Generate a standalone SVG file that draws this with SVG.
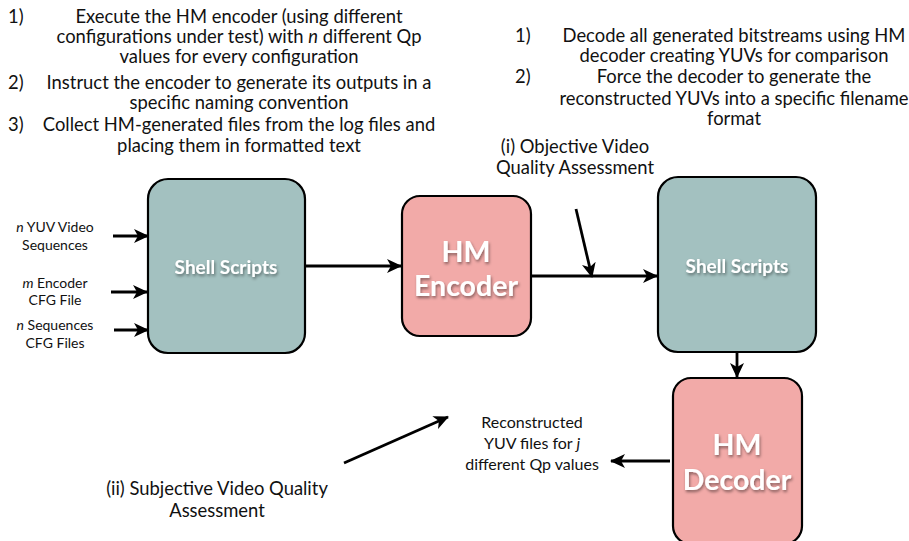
<svg xmlns="http://www.w3.org/2000/svg" width="909" height="541" viewBox="0 0 909 541">
<style>
.t{font-family:Lato,"Liberation Sans",sans-serif;fill:#111;}
.big{font-size:18.4px;}
.sm{font-size:14px;}
.md{font-size:16px;}
.box{stroke:#000;stroke-width:2.2;}
.teal{fill:#A3C1C0;}
.pink{fill:#F2AAA8;}
.lbl{font-family:Lato,"Liberation Sans",sans-serif;font-weight:bold;fill:#fff;text-anchor:middle;filter:url(#sh);}
.c{fill:none;stroke:#000;stroke-width:2.8;}
</style>
<defs>
<marker id="ah" markerUnits="userSpaceOnUse" markerWidth="16" markerHeight="14" refX="14" refY="7" orient="auto" viewBox="0 0 16 14">
<path d="M0,0 L15,7 L0,14 L4,7 z" fill="#000"/>
</marker>
<filter id="sh" x="-20%" y="-30%" width="140%" height="160%">
<feDropShadow dx="1" dy="2" stdDeviation="1.5" flood-color="#000" flood-opacity="0.45"/>
</filter>
</defs>
<rect width="909" height="541" fill="#fff"/>

<g id="notes-left" class="t big">
<text x="8" y="23">1)</text>
<text x="239" y="23" text-anchor="middle">Execute the HM encoder (using different</text>
<text x="239" y="43" text-anchor="middle">configurations under test) with <tspan font-style="italic">n</tspan> different Qp</text>
<text x="239" y="63" text-anchor="middle">values for every configuration</text>
<text x="8" y="89">2)</text>
<text x="239" y="89" text-anchor="middle">Instruct the encoder to generate its outputs in a</text>
<text x="239" y="109" text-anchor="middle">specific naming convention</text>
<text x="8" y="131">3)</text>
<text x="239" y="131" text-anchor="middle">Collect HM-generated files from the log files and</text>
<text x="239" y="152" text-anchor="middle">placing them in formatted text</text>
</g>

<g id="notes-right" class="t big">
<text x="515" y="42">1)</text>
<text x="734" y="42" text-anchor="middle">Decode all generated bitstreams using HM</text>
<text x="734" y="62" text-anchor="middle">decoder creating YUVs for comparison</text>
<text x="515" y="83">2)</text>
<text x="734" y="83" text-anchor="middle">Force the decoder to generate the</text>
<text x="734" y="105" text-anchor="middle">reconstructed YUVs into a specific filename</text>
<text x="734" y="125" text-anchor="middle">format</text>
</g>

<g id="label-objective" class="t big" text-anchor="middle">
<text x="575" y="153">(i) Objective Video</text>
<text x="575" y="174">Quality Assessment</text>
</g>

<g id="label-inputs" class="t sm" text-anchor="middle">
<text x="55" y="232"><tspan font-style="italic">n</tspan> YUV Video</text>
<text x="55" y="250">Sequences</text>
<text x="55" y="288"><tspan font-style="italic">m</tspan> Encoder</text>
<text x="55" y="305">CFG File</text>
<text x="55" y="330"><tspan font-style="italic">n</tspan> Sequences</text>
<text x="55" y="348">CFG Files</text>
</g>

<g id="label-reconstructed" class="t md" text-anchor="middle">
<text x="532" y="428">Reconstructed</text>
<text x="532" y="449">YUV files for <tspan font-style="italic">j</tspan></text>
<text x="532" y="470">different Qp values</text>
</g>

<g id="label-subjective" class="t big" text-anchor="middle">
<text x="217" y="495">(ii) Subjective Video Quality</text>
<text x="217" y="517">Assessment</text>
</g>

<g id="shell-left">
<rect class="box teal" x="148" y="179" width="157" height="174" rx="20"/>
<text class="lbl" x="226" y="274" font-size="19">Shell Scripts</text>
</g>

<g id="hm-encoder">
<rect class="box pink" x="402" y="196" width="129" height="140" rx="18"/>
<text class="lbl" x="466" y="262" font-size="28.5">HM</text>
<text class="lbl" x="466" y="296" font-size="28.5">Encoder</text>
</g>

<g id="shell-right">
<rect class="box teal" x="658" y="177" width="158" height="175" rx="20"/>
<text class="lbl" x="737" y="273" font-size="19">Shell Scripts</text>
</g>

<g id="hm-decoder">
<rect class="box pink" x="673" y="378" width="129" height="166" rx="18"/>
<text class="lbl" x="737" y="455" font-size="28.5">HM</text>
<text class="lbl" x="737" y="490" font-size="28.5">Decoder</text>
</g>

<g id="connectors">
<line class="c" x1="113" y1="236" x2="148" y2="236" marker-end="url(#ah)"/>
<line class="c" x1="111" y1="292" x2="147" y2="292" marker-end="url(#ah)"/>
<line class="c" x1="114" y1="330" x2="148" y2="330" marker-end="url(#ah)"/>
<line class="c" x1="305" y1="266" x2="401" y2="266" marker-end="url(#ah)"/>
<line class="c" x1="531" y1="276" x2="657" y2="276" marker-end="url(#ah)"/>
<line class="c" x1="576" y1="209" x2="592" y2="277" marker-end="url(#ah)"/>
<line class="c" x1="737" y1="352" x2="737" y2="377" marker-end="url(#ah)"/>
<line class="c" x1="670" y1="461" x2="611" y2="461" marker-end="url(#ah)"/>
<line class="c" x1="344" y1="463" x2="448" y2="417" marker-end="url(#ah)"/>
</g>
</svg>
